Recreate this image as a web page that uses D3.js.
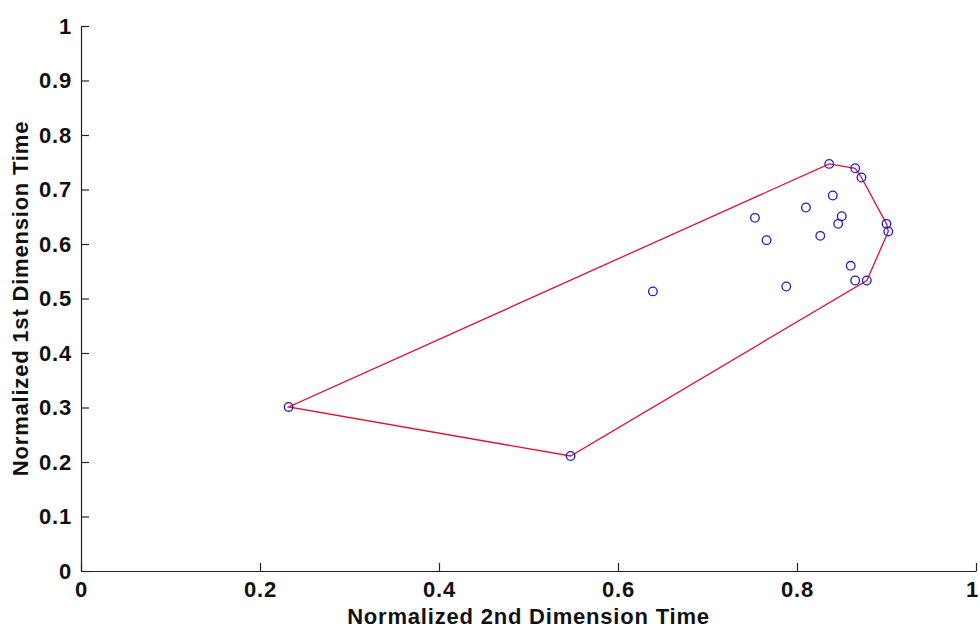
<!DOCTYPE html>
<html>
<head>
<meta charset="utf-8">
<script src="https://cdn.jsdelivr.net/npm/d3@7"></script>
<style>
  body { margin: 0; background: #fff; }
  svg { display: block; }
  text { font-family: "Liberation Sans", Arial, Helvetica, sans-serif; font-weight: bold; fill: #111; letter-spacing: 0.8px; }
</style>
</head>
<body>
<svg id="chart" width="980" height="630"></svg>
<script>
// normalized times
var xVals = [0.836, 0.865, 0.872, 0.840, 0.810, 0.753, 0.850, 0.846, 0.900, 0.902,
             0.766, 0.826, 0.860, 0.865, 0.878, 0.788, 0.639, 0.232, 0.547];
var yVals = [0.747, 0.739, 0.722, 0.689, 0.667, 0.648, 0.651, 0.637, 0.637, 0.623,
             0.607, 0.615, 0.560, 0.533, 0.533, 0.522, 0.513, 0.301, 0.211];
var xTicks = [0, 0.2, 0.4, 0.6, 0.8, 1];
var yTicks = [0, 0.1, 0.2, 0.3, 0.4, 0.5, 0.6, 0.7, 0.8, 0.9, 1];
var xLabel = "Normalized 2nd Dimension Time";
var yLabel = "Normalized 1st Dimension Time";

var svg = d3.select("#chart");
var mLeft = 81, mRight = 976, mTop = 26, mBottom = 571;

var x = d3.scaleLinear().domain([0, 1]).range([mLeft, mRight]);
var y = d3.scaleLinear().domain([0, 1]).range([mBottom, mTop]);

var fmt = function(d) { return String(+d.toFixed(1)); };

var gx = svg.append("g")
  .attr("transform", "translate(0," + mBottom + ")")
  .call(d3.axisBottom(x).tickValues(xTicks).tickFormat(fmt).tickSize(-8).tickSizeOuter(0).tickPadding(10));
var gy = svg.append("g")
  .attr("transform", "translate(" + mLeft + ",0)")
  .call(d3.axisLeft(y).tickValues(yTicks).tickFormat(fmt).tickSize(-8).tickSizeOuter(0).tickPadding(9));

[gx, gy].forEach(function(g) {
  g.select(".domain").attr("stroke", "#222").attr("stroke-width", 1.2);
  g.selectAll(".tick line").attr("stroke", "#222").attr("stroke-width", 1.2);
  g.selectAll(".tick text").style("font-size", "22px").attr("fill", "#111");
});
// keep the last x label inside the frame
gx.selectAll(".tick text").filter(function(d) { return d === 1; }).attr("dx", "-4");

var pts = xVals.map(function(d, i) { return [d, yVals[i]]; });
var hull = d3.polygonHull(pts);

svg.append("path")
  .attr("d", d3.line().x(function(d) { return x(d[0]); }).y(function(d) { return y(d[1]); })(hull) + "Z")
  .attr("fill", "none")
  .attr("stroke", "#e01030")
  .attr("stroke-width", 1.3);

svg.selectAll("circle.pt")
  .data(pts).enter()
  .append("circle")
  .attr("class", "pt")
  .attr("cx", function(d) { return x(d[0]); })
  .attr("cy", function(d) { return y(d[1]); })
  .attr("r", 4.3)
  .attr("fill", "none")
  .attr("stroke", "#1c1cc8")
  .attr("stroke-width", 1.3);

svg.append("text")
  .attr("x", (mLeft + mRight) / 2)
  .attr("y", 624)
  .attr("text-anchor", "middle")
  .style("font-size", "22px")
  .text(xLabel);

svg.append("text")
  .attr("transform", "translate(28," + ((mTop + mBottom) / 2) + ") rotate(-90)")
  .attr("text-anchor", "middle")
  .style("font-size", "22px")
  .text(yLabel);
</script>
</body>
</html>
